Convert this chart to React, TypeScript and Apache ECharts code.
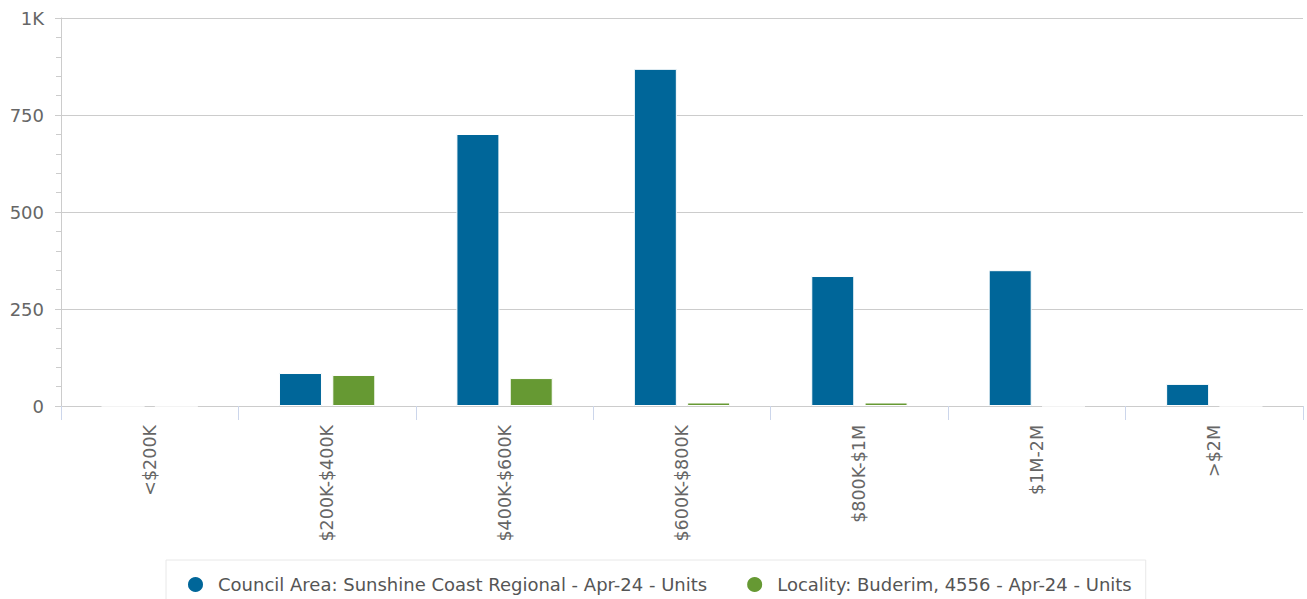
import React, { useEffect, useRef } from "react";
import * as echarts from "echarts";

const categories = ["<$200K", "$200K-$400K", "$400K-$600K", "$600K-$800K", "$800K-$1M", "$1M-2M", ">$2M"];
const councilValues = [0, 85, 701, 869, 335, 350, 57];
const localityValues = [0, 80, 72, 9, 9, 0, 0];
const seriesNames = [
  "Council Area: Sunshine Coast Regional - Apr-24 - Units",
  "Locality: Buderim, 4556 - Apr-24 - Units",
];

export default function App() {
  const ref = useRef<HTMLDivElement>(null);
  useEffect(() => {
    document.body.style.margin = "0";
    const chart = echarts.init(ref.current!, null, { renderer: "svg" });
    const font = "DejaVu Sans";
    chart.setOption({
      animation: false,
      textStyle: { fontFamily: font },
      grid: { left: 61, right: 4, top: 18, bottom: 193, containLabel: false },
      legend: {
        top: 560,
        left: 166,
        icon: "circle",
        itemWidth: 17,
        itemHeight: 17,
        itemGap: 38,
        padding: [15, 14, 14, 20],
        borderColor: "#e8e8e8",
        borderWidth: 1,
        textStyle: { color: "#555", fontSize: 18, fontFamily: font, padding: [0, 0, 0, 9] },
        data: seriesNames,
      },
      xAxis: {
        type: "category",
        data: categories,
        axisLine: { lineStyle: { color: "#cccccc" } },
        axisTick: { show: true, length: 14, lineStyle: { color: "#ccd6eb" } },
        axisLabel: { rotate: 90, color: "#666", fontSize: 17.5, margin: 19, fontFamily: font },
      },
      yAxis: {
        type: "value",
        min: 0,
        max: 1000,
        interval: 250,
        axisLine: { show: true, lineStyle: { color: "#cccccc" } },
        axisTick: { show: true, length: 6, lineStyle: { color: "#cccccc" } },
        minorTick: { show: true, splitNumber: 5, length: 5, lineStyle: { color: "#cccccc" } },
        splitLine: { show: true, lineStyle: { color: "#cccccc" } },
        axisLabel: {
          color: "#666",
          fontSize: 18,
          margin: 17,
          fontFamily: font,
          formatter: (v: number) => (v >= 1000 ? v / 1000 + "K" : String(v)),
        },
      },
      series: [
        {
          name: seriesNames[0],
          type: "bar",
          data: councilValues,
          barWidth: 43,
          barGap: "24%",
          itemStyle: { color: "#006699", borderColor: "#ffffff", borderWidth: 1 },
        },
        {
          name: seriesNames[1],
          type: "bar",
          data: localityValues,
          barWidth: 43,
          itemStyle: { color: "#669933", borderColor: "#ffffff", borderWidth: 1 },
        },
      ],
    });
    return () => chart.dispose();
  }, []);
  return <div ref={ref} style={{ width: 1307, height: 599 }} />;
}
